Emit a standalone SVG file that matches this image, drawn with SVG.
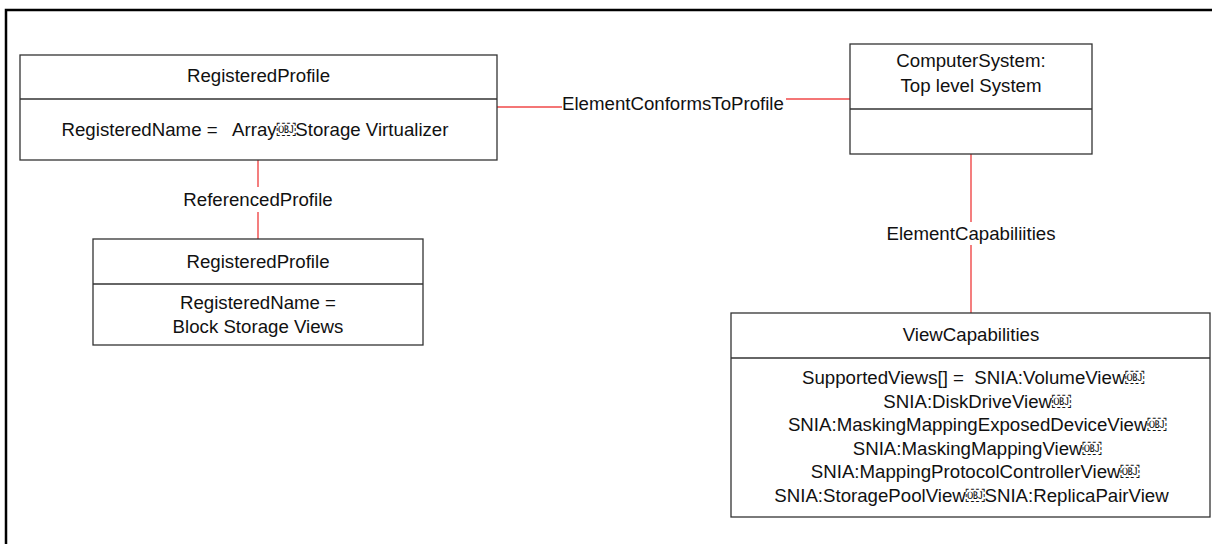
<svg xmlns="http://www.w3.org/2000/svg" width="1212" height="544" viewBox="0 0 1212 544">
<style>
.box{fill:#fff;stroke:#333;stroke-width:1.3}
.div{stroke:#333;stroke-width:1.3}
.t{font-family:"Liberation Sans",Arial,sans-serif;font-size:18.67px;fill:#111;text-anchor:middle;white-space:pre}
.c{stroke:#f04848;stroke-width:1.4;fill:none}
.frame{stroke:#000;stroke-width:2.5;fill:none}
</style>
<rect width="1212" height="544" fill="#fff"/>
<path class="frame" d="M6,544 V10 H1212"/>
<g id="connectors">
<line class="c" x1="497" y1="107" x2="562" y2="107"/>
<line class="c" x1="786" y1="99" x2="850" y2="99"/>
<text class="t" x="562" y="109.5" style="text-anchor:start">ElementConformsToProfile</text>
<line class="c" x1="258" y1="160" x2="258" y2="187"/>
<line class="c" x1="258" y1="212" x2="258" y2="239"/>
<text class="t" x="258" y="206">ReferencedProfile</text>
<line class="c" x1="971" y1="154" x2="971" y2="222"/>
<line class="c" x1="971" y1="245" x2="971" y2="313"/>
<text class="t" x="971" y="239.5">ElementCapabiliities</text>
</g>
<g id="registeredProfileTop">
<rect class="box" x="20" y="55" width="477" height="105"/>
<line class="div" x1="20" y1="99" x2="497" y2="99"/>
<text class="t" x="258.5" y="82">RegisteredProfile</text>
<text class="t" x="255" y="135.5">RegisteredName =   Array&#xFFFC;Storage Virtualizer</text>
</g>
<g id="computerSystem">
<rect class="box" x="850" y="44" width="242" height="110"/>
<line class="div" x1="850" y1="109" x2="1092" y2="109"/>
<text class="t" x="971" y="67">ComputerSystem:</text>
<text class="t" x="971" y="92">Top level System</text>
</g>
<g id="registeredProfileBottom">
<rect class="box" x="93" y="239" width="330" height="106"/>
<line class="div" x1="93" y1="284" x2="423" y2="284"/>
<text class="t" x="258" y="268">RegisteredProfile</text>
<text class="t" x="258" y="308.5">RegisteredName =</text>
<text class="t" x="258" y="333">Block Storage Views</text>
</g>
<g id="viewCapabilities">
<rect class="box" x="731" y="313" width="479" height="204"/>
<line class="div" x1="731" y1="358" x2="1210" y2="358"/>
<text class="t" x="971" y="340.5">ViewCapabilities</text>
<text class="t" x="973" y="384">SupportedViews[] =  SNIA:VolumeView&#xFFFC;</text>
<text class="t" x="977" y="407.5">SNIA:DiskDriveView&#xFFFC;</text>
<text class="t" x="977" y="431">SNIA:MaskingMappingExposedDeviceView&#xFFFC;</text>
<text class="t" x="977" y="454.5">SNIA:MaskingMappingView&#xFFFC;</text>
<text class="t" x="975" y="478">SNIA:MappingProtocolControllerView&#xFFFC;</text>
<text class="t" x="971.5" y="501.5">SNIA:StoragePoolView&#xFFFC;SNIA:ReplicaPairView</text>
</g>
</svg>
